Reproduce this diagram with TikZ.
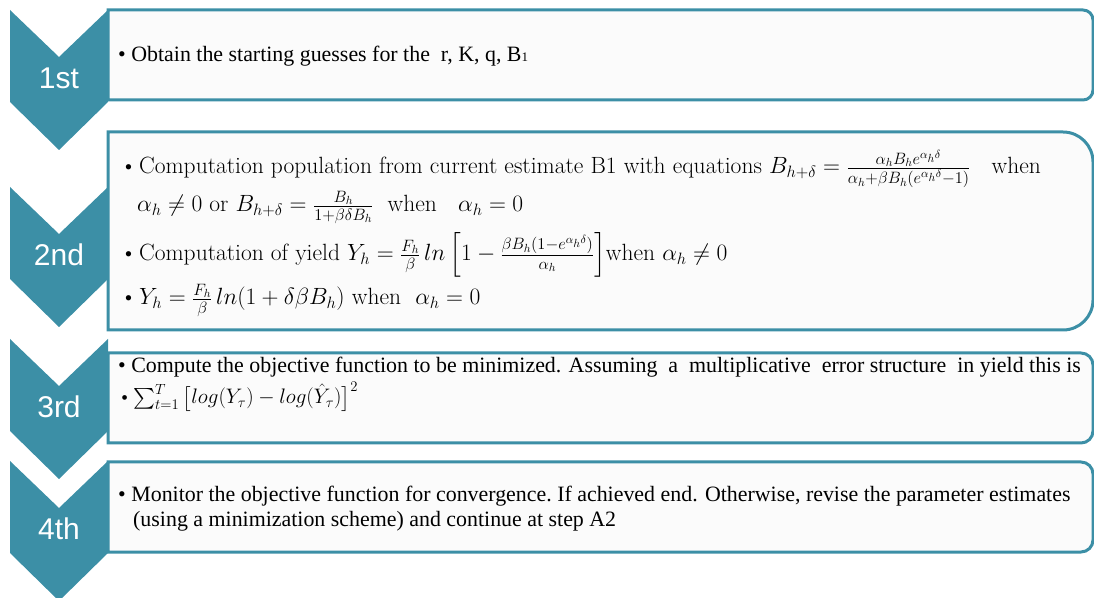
\RequirePackage{fix-cm}
\documentclass[tikz,border=0pt]{standalone}
\usepackage{amsmath}
\usepackage{fontspec}
\setmainfont{Liberation Serif}
\setsansfont{Liberation Sans}
\newfontfamily\cambriafont{Latin Modern Roman}
\definecolor{stepteal}{HTML}{3C8FA6}
\definecolor{boxfill}{HTML}{FBFBFB}
\tikzset{
    chevron/.style={fill=stepteal, draw=none},
    stagebox/.style={draw=stepteal, line width=3pt, fill=boxfill},
    steplabel/.style={text=white, inner sep=0pt, font=\sffamily\fontsize{30}{30}\selectfont},
    bodytext/.style={anchor=base west, inner sep=0pt, font=\fontsize{21.9}{24}\selectfont},
    mathtext/.style={anchor=base west, inner sep=0pt, font=\cambriafont\fontsize{23.5}{26}\selectfont},
}

\begin{document}
\begin{tikzpicture}[x=1pt, y=1pt]
        \useasboundingbox (0,0) rectangle (1094,597);
        \clip (0,0) rectangle (1094,597);

        % boxes, square on the left, rounded on the right
        \foreach \T/\B/\r in {587/497/10, 465/267/30, 244/154/12, 135/45/12} {
            \draw[stagebox] (108,\T) -- ({1093-\r},\T)
                arc[start angle=90, end angle=0, radius=\r]
                -- (1093,{\B+\r})
                arc[start angle=0, end angle=-90, radius=\r]
                -- (108,\B) -- cycle;
        }

        % chevrons
        \foreach \T/\lab in {587/1st, 410/2nd, 258/3rd, 136/4th} {
            \fill[chevron] (10,\T) -- (59,{\T-47}) -- (108,\T) -- (108,{\T-92})
                -- (59,{\T-140}) -- (10,{\T-92}) -- cycle;
            \node[steplabel] (lab\lab) at (59,{\T-68}) {\lab};
        }

        \node[bodytext] (obtain) at (118,535)
            {\textbullet\ Obtain\ the\ starting\ guesses\ for\ the\ \ r, K, q, B{\fontsize{13}{13}\selectfont 1}};

        \node[mathtext] (popone) at (120,423)
            {\textbullet\hspace{2pt}Computation population from current estimate B1 with equations
            $B_{h+\delta} = \frac{\alpha_h B_h e^{\alpha_h\delta}}{\alpha_h+\beta B_h(e^{\alpha_h\delta}-1)}$\ \ \ when};
        \node[mathtext] (poptwo) at (137,385)
            {$\alpha_h \neq 0$ or $B_{h+\delta} = \frac{B_h}{1+\beta\delta B_h}$\ \ when\ \ \ $\alpha_h = 0$};
        \node[mathtext] (yieldone) at (120,336)
            {\textbullet\hspace{2pt}Computation\ of\ yield $Y_h = \frac{F_h}{\beta}\,ln\left[1-\frac{\beta B_h(1-e^{\alpha_h\delta})}{\alpha_h}\right]$when $\alpha_h \neq 0$};
        \node[mathtext] (yieldtwo) at (120,292)
            {\textbullet\hspace{2pt}$Y_h = \frac{F_h}{\beta}\,ln(1+\delta\beta B_h)$ when\ \ $\alpha_h = 0$};

        \node[bodytext] (objone) at (118,224)
            {\textbullet\ Compute\ the\ objective\ function\ to\ be\ minimized. Assuming\ \ a\ \ multiplicative\ \ error structure\ \ in yield this is};
        \node[mathtext, font=\cambriafont\fontsize{21}{24}\selectfont] (objtwo) at (117,193)
            {\textbullet\hspace{1pt}$\sum_{t=1}^{T}\big[log(Y_\tau)-log(\hat{Y}_\tau)\big]^2$};

        \node[bodytext] (monone) at (118,96)
            {\textbullet\ Monitor\ the\ objective\ function\ for\ convergence.\ If achieved\ end. Otherwise,\ revise the parameter\ estimates};
        \node[bodytext] (montwo) at (133,71)
            {(using\ a\ minimization\ scheme)\ and\ continue\ at\ step A2};
\end{tikzpicture}
\end{document}
